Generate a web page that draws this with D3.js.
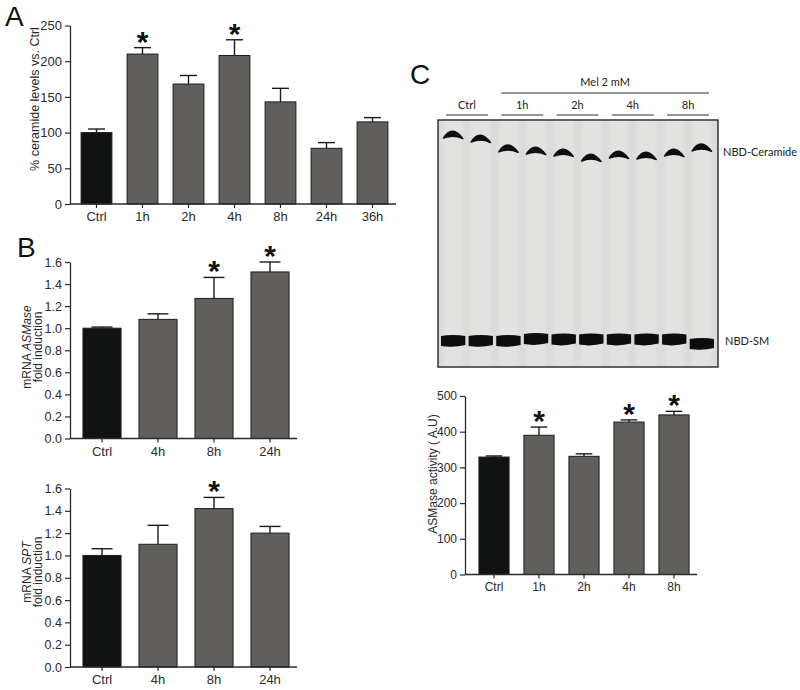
<!DOCTYPE html>
<html>
<head>
<meta charset="utf-8">
<script src="https://cdn.jsdelivr.net/npm/d3@7"></script>
<style>
  html, body { margin: 0; padding: 0; background: #fff; }
  svg { display: block; }
  .axis text { font-family: "Liberation Sans", Arial, sans-serif; fill: #2a2a2a; }
  .axis path, .axis line { stroke: #2a2a2a; }
</style>
</head>
<body>
<svg id="chart" width="800" height="690"></svg>
<script>
// ---------------- DATA ----------------
const panelA_categories = ["Ctrl", "1h", "2h", "4h", "8h", "24h", "36h"];
const panelA_values     = [100, 210, 168, 208, 143, 78, 115];
const panelA_errors     = [5, 9, 12, 22, 19, 8, 6];
const panelA_sig        = [false, true, false, true, false, false, false];
const panelA_ticks      = [0, 50, 100, 150, 200, 250];

const panelB1_categories = ["Ctrl", "4h", "8h", "24h"];
const panelB1_values     = [1.00, 1.08, 1.27, 1.51];
const panelB1_errors     = [0.01, 0.05, 0.19, 0.09];
const panelB1_sig        = [false, false, true, true];

const panelB2_categories = ["Ctrl", "4h", "8h", "24h"];
const panelB2_values     = [1.00, 1.10, 1.42, 1.20];
const panelB2_errors     = [0.06, 0.17, 0.10, 0.06];
const panelB2_sig        = [false, false, true, false];
const panelB_ticks       = [0, 0.2, 0.4, 0.6, 0.8, 1.0, 1.2, 1.4, 1.6];

const panelC_categories = ["Ctrl", "1h", "2h", "4h", "8h"];
const panelC_values     = [329, 390, 331, 427, 447];
const panelC_errors     = [3, 23, 7, 6, 10];
const panelC_sig        = [false, true, false, true, true];
const panelC_ticks      = [0, 100, 200, 300, 400, 500];

// TLC gel (relative migration, Rf)
const gelLanes        = ["Ctrl", "Ctrl", "1h", "1h", "2h", "2h", "4h", "4h", "8h", "8h"];
const gelGroups       = ["Ctrl", "1h", "2h", "4h", "8h"];
const gelCeramideRf   = [0.939, 0.923, 0.883, 0.874, 0.866, 0.846, 0.858, 0.854, 0.866, 0.887];
const gelSMRf         = [0.105, 0.105, 0.105, 0.113, 0.111, 0.111, 0.111, 0.111, 0.111, 0.093];

// ---------------- DRAW ----------------
const svg = d3.select("#chart");
const CTRL_COLOR = "#101312";
const BAR_COLOR = "#615f5c";
const FONT = "'Liberation Sans', Arial, sans-serif";

function barPanel(o) {
  const g = svg.append("g");
  const x = d3.scaleBand().domain(o.categories).range([o.bandStart, o.bandEnd])
    .paddingInner(o.padding).paddingOuter(o.padding / 2);
  const y = d3.scaleLinear().domain([0, o.max]).range([o.yBottom, o.yTop]);
  const data = o.categories.map((c, i) => ({ c, v: o.values[i], e: o.errors[i], s: o.sig[i], i }));

  // error bars (upper only)
  const capW = x.bandwidth() * 0.55;
  const eb = g.append("g").attr("stroke", "#1a1a1a").attr("stroke-width", 1.4);
  eb.selectAll("line.v").data(data).join("line")
    .attr("x1", d => x(d.c) + x.bandwidth() / 2).attr("x2", d => x(d.c) + x.bandwidth() / 2)
    .attr("y1", d => y(d.v)).attr("y2", d => y(d.v + d.e));
  eb.selectAll("line.h").data(data).join("line")
    .attr("x1", d => x(d.c) + x.bandwidth() / 2 - capW / 2).attr("x2", d => x(d.c) + x.bandwidth() / 2 + capW / 2)
    .attr("y1", d => y(d.v + d.e)).attr("y2", d => y(d.v + d.e));

  // bars
  g.selectAll("rect.bar").data(data).join("rect")
    .attr("x", d => x(d.c)).attr("width", x.bandwidth())
    .attr("y", d => y(d.v)).attr("height", d => y(0) - y(d.v))
    .attr("fill", d => d.i === 0 ? CTRL_COLOR : BAR_COLOR)
    .attr("stroke", "#1e1e1e").attr("stroke-width", 1);

  // significance stars
  g.selectAll("text.star").data(data.filter(d => d.s)).join("text")
    .attr("x", d => x(d.c) + x.bandwidth() / 2)
    .attr("y", d => y(d.v + d.e) + 4)
    .attr("text-anchor", "middle")
    .attr("font-family", FONT).attr("font-weight", "bold").attr("font-size", 30)
    .attr("fill", "#111").text("*");

  // y axis
  const ya = g.append("g").attr("class", "axis")
    .attr("transform", `translate(${o.axisX},0)`)
    .call(d3.axisLeft(y).tickValues(o.ticks).tickFormat(o.fmt).tickSize(5).tickSizeOuter(0));
  ya.selectAll("text").attr("font-size", o.tickFont);
  ya.select(".domain").attr("stroke-width", 1.3);
  ya.selectAll(".tick line").attr("stroke-width", 1.2);

  // x axis
  const xa = g.append("g").attr("class", "axis")
    .attr("transform", `translate(0,${o.yBottom})`)
    .call(d3.axisBottom(x).tickSize(4).tickSizeOuter(0).tickPadding(4));
  xa.select(".domain").remove();
  xa.append("line").attr("x1", o.axisX).attr("x2", o.axisEnd).attr("y1", 0).attr("y2", 0)
    .attr("stroke", "#2a2a2a").attr("stroke-width", 1.3);
  xa.selectAll("text").attr("font-size", o.xFont);
  xa.selectAll(".tick line").attr("stroke-width", 1.2);

  // y title
  const t = g.append("text")
    .attr("transform", `translate(${o.titleX},${o.titleY}) rotate(-90)`)
    .attr("text-anchor", "middle").attr("font-family", FONT)
    .attr("font-size", o.titleFont).attr("fill", "#2a2a2a");
  o.title.forEach((line, li) => {
    const tl = t.append("tspan").attr("x", 0).attr("y", li * 11);
    line.forEach(part => {
      tl.append("tspan").attr("font-style", part.italic ? "italic" : "normal").text(part.t);
    });
  });
  return { x, y };
}

// Panel A
barPanel({
  categories: panelA_categories, values: panelA_values, errors: panelA_errors, sig: panelA_sig,
  ticks: panelA_ticks, fmt: d3.format("d"), max: 250,
  bandStart: 73.5, bandEnd: 395.5, padding: 0.33,
  axisX: 70, axisEnd: 396, yTop: 25.5, yBottom: 204,
  tickFont: 13, xFont: 13, titleFont: 12.5,
  titleX: 39, titleY: 99,
  title: [[{ t: "% ceramide levels vs. Ctrl" }]]
});

// Panel B top
barPanel({
  categories: panelB1_categories, values: panelB1_values, errors: panelB1_errors, sig: panelB1_sig,
  ticks: panelB_ticks, fmt: d3.format(".1f"), max: 1.6,
  bandStart: 74, bandEnd: 298, padding: 0.32,
  axisX: 70, axisEnd: 297, yTop: 262, yBottom: 438.5,
  tickFont: 12.5, xFont: 13, titleFont: 12,
  titleX: 31, titleY: 347,
  title: [[{ t: "mRNA " }, { t: "ASMase", italic: true }], [{ t: "fold induction" }]]
});

// Panel B bottom
barPanel({
  categories: panelB2_categories, values: panelB2_values, errors: panelB2_errors, sig: panelB2_sig,
  ticks: panelB_ticks, fmt: d3.format(".1f"), max: 1.6,
  bandStart: 74, bandEnd: 298, padding: 0.32,
  axisX: 70, axisEnd: 297, yTop: 488.5, yBottom: 667,
  tickFont: 12.5, xFont: 13, titleFont: 12,
  titleX: 31, titleY: 572,
  title: [[{ t: "mRNA " }, { t: "SPT", italic: true }], [{ t: "fold induction" }]]
});

// Panel C bars
barPanel({
  categories: panelC_categories, values: panelC_values, errors: panelC_errors, sig: panelC_sig,
  ticks: panelC_ticks, fmt: d3.format("d"), max: 500,
  bandStart: 471.5, bandEnd: 696.5, padding: 0.33,
  axisX: 465, axisEnd: 697, yTop: 396, yBottom: 574.5,
  tickFont: 12, xFont: 12, titleFont: 12,
  titleX: 437, titleY: 474,
  title: [[{ t: "ASMase activity ( A.U)" }]]
});

// Panel letters
[["A", 5, 26], ["B", 17, 257], ["C", 410, 84]].forEach(([l, px, py]) => {
  svg.append("text").attr("x", px).attr("y", py).attr("font-family", FONT)
    .attr("font-size", 28).attr("fill", "#111").text(l);
});

// ---------------- GEL ----------------
const gel = { x0: 438, x1: 718, y0: 120, y1: 367 };
const defs = svg.append("defs");
defs.append("filter").attr("id", "blur").attr("x", "-20%").attr("y", "-50%").attr("width", "140%").attr("height", "200%")
  .append("feGaussianBlur").attr("stdDeviation", 0.7);
defs.append("filter").attr("id", "blur2").attr("x", "-50%").attr("y", "-10%").attr("width", "200%").attr("height", "120%")
  .append("feGaussianBlur").attr("stdDeviation", 2);
defs.append("clipPath").attr("id", "gelclip").append("rect")
  .attr("x", gel.x0).attr("y", gel.y0).attr("width", gel.x1 - gel.x0).attr("height", gel.y1 - gel.y0);

const laneIdx = gelLanes.map((d, i) => i);
const gx = d3.scaleBand().domain(laneIdx).range([441, 714]).paddingInner(0.12);
const gy = d3.scaleLinear().domain([0, 1]).range([gel.y1, gel.y0]);

const gg = svg.append("g");
gg.append("rect").attr("x", gel.x0).attr("y", gel.y0).attr("width", gel.x1 - gel.x0).attr("height", gel.y1 - gel.y0)
  .attr("fill", "#d9dbd9");
const gc = gg.append("g").attr("clip-path", "url(#gelclip)");
// lane streaks
gc.selectAll("rect.lane").data(laneIdx).join("rect")
  .attr("x", d => gx(d) + 2).attr("width", gx.bandwidth() - 4)
  .attr("y", gel.y0 - 10).attr("height", gel.y1 - gel.y0 + 20)
  .attr("fill", "#e2e3e1").attr("filter", "url(#blur2)");

// ceramide bands (crescent arches)
gc.selectAll("path.cer").data(laneIdx).join("path")
  .attr("d", i => {
    const cx = gx(i) + gx.bandwidth() / 2, y = gy(gelCeramideRf[i]), w = gx.bandwidth() * 0.4;
    return `M${cx - w},${y + 3} Q${cx - 1},${y - 11} ${cx + w},${y + 3.5} Q${cx},${y - 1} ${cx - w},${y + 3} Z`;
  })
  .attr("fill", "#0c0c0c").attr("stroke", "#0c0c0c").attr("stroke-width", 1.4)
  .attr("stroke-linejoin", "round")
  .attr("filter", "url(#blur)");

// SM bands
gc.selectAll("path.sm").data(laneIdx).join("path")
  .attr("d", i => {
    const cx = gx(i) + gx.bandwidth() / 2, y = gy(gelSMRf[i]), w = gx.bandwidth() * 0.5;
    return `M${cx - w},${y - 5} Q${cx},${y - 7} ${cx + w},${y - 5} L${cx + w},${y + 4} Q${cx},${y + 7} ${cx - w},${y + 5} Z`;
  })
  .attr("fill", "#080808").attr("filter", "url(#blur)");

gg.append("rect").attr("x", gel.x0).attr("y", gel.y0).attr("width", gel.x1 - gel.x0).attr("height", gel.y1 - gel.y0)
  .attr("fill", "none").attr("stroke", "#333").attr("stroke-width", 1.5);

// gel group labels
const GFONT = "Lato, 'Open Sans', sans-serif";
gelGroups.forEach(grp => {
  const idx = gelLanes.map((l, i) => l === grp ? i : -1).filter(i => i >= 0);
  const xa = gx(idx[0]) - 1, xb = gx(idx[idx.length - 1]) + gx.bandwidth() + 1;
  gg.append("line").attr("x1", xa + 6).attr("x2", xb - 6).attr("y1", 115).attr("y2", 115)
    .attr("stroke", "#333").attr("stroke-width", 1.2);
  gg.append("text").attr("x", (xa + xb) / 2).attr("y", 109).attr("text-anchor", "middle")
    .attr("font-family", GFONT).attr("font-size", 11).attr("fill", "#222").text(grp);
});
{
  const i0 = gelLanes.indexOf("1h");
  const xa = gx(i0) + 5, xb = gx(gelLanes.length - 1) + gx.bandwidth() - 5;
  gg.append("line").attr("x1", xa).attr("x2", xb).attr("y1", 93).attr("y2", 93)
    .attr("stroke", "#333").attr("stroke-width", 1.2);
  gg.append("text").attr("x", (xa + xb) / 2).attr("y", 86).attr("text-anchor", "middle")
    .attr("font-family", GFONT).attr("font-size", 11).attr("fill", "#222").text("Mel 2 mM");
}
gg.append("text").attr("x", 723).attr("y", gy(0.87) + 4).attr("font-family", GFONT)
  .attr("font-size", 11).attr("fill", "#222").text("NBD-Ceramide");
gg.append("text").attr("x", 725).attr("y", gy(0.105) + 4).attr("font-family", GFONT)
  .attr("font-size", 11).attr("fill", "#222").text("NBD-SM");
</script>
</body>
</html>
